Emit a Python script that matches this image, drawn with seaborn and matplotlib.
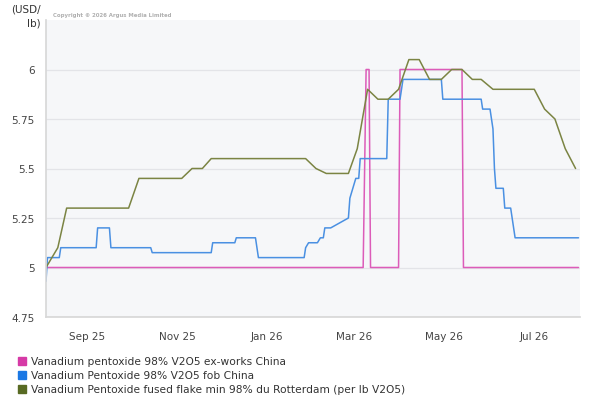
import matplotlib
matplotlib.use("Agg")
import matplotlib.pyplot as plt
import matplotlib.dates as mdates
from matplotlib.lines import Line2D
import seaborn as sns
import pandas as pd

# ---- data ----
exw_dates = ["2025-08-04", "2026-03-07", "2026-03-09", "2026-03-11", "2026-03-12",
             "2026-03-31", "2026-04-01", "2026-05-13", "2026-05-14", "2026-07-31"]
exw_vals = [5.0, 5.0, 6.0, 6.0, 5.0, 5.0, 6.0, 6.0, 5.0, 5.0]

fob_dates = ["2025-08-04", "2025-08-05", "2025-08-13", "2025-08-14", "2025-09-07", "2025-09-08",
             "2025-09-16", "2025-09-17", "2025-10-14", "2025-10-15", "2025-11-24", "2025-11-25",
             "2025-12-10", "2025-12-11", "2025-12-24", "2025-12-26", "2026-01-26", "2026-01-27",
             "2026-01-29", "2026-02-04", "2026-02-06", "2026-02-08", "2026-02-09", "2026-02-13",
             "2026-02-25", "2026-02-26", "2026-03-02", "2026-03-04", "2026-03-05", "2026-03-23",
             "2026-03-24", "2026-04-01", "2026-04-03", "2026-04-29", "2026-04-30", "2026-05-26",
             "2026-05-27", "2026-06-01", "2026-06-03", "2026-06-04", "2026-06-05", "2026-06-10",
             "2026-06-11", "2026-06-15", "2026-06-16", "2026-06-18", "2026-07-31"]
fob_vals = [4.93, 5.05, 5.05, 5.10, 5.10, 5.20,
            5.20, 5.10, 5.10, 5.075, 5.075, 5.125,
            5.125, 5.15, 5.15, 5.05, 5.05, 5.10,
            5.125, 5.125, 5.15, 5.15, 5.20, 5.20,
            5.25, 5.35, 5.45, 5.45, 5.55, 5.55,
            5.85, 5.85, 5.95, 5.95, 5.85, 5.85,
            5.80, 5.80, 5.70, 5.50, 5.40, 5.40,
            5.30, 5.30, 5.25, 5.15, 5.15]

rot_dates = ["2025-08-04", "2025-08-12", "2025-08-18", "2025-09-29", "2025-10-06", "2025-11-04",
             "2025-11-11", "2025-11-18", "2025-11-24", "2026-01-27", "2026-02-03", "2026-02-10",
             "2026-02-25", "2026-03-03", "2026-03-10", "2026-03-17", "2026-03-24", "2026-03-31",
             "2026-04-07", "2026-04-14", "2026-04-21", "2026-04-29", "2026-05-06", "2026-05-13",
             "2026-05-20", "2026-05-26", "2026-06-03", "2026-07-01", "2026-07-08", "2026-07-15",
             "2026-07-22", "2026-07-29"]
rot_vals = [5.00, 5.10, 5.30, 5.30, 5.45, 5.45,
            5.50, 5.50, 5.55, 5.55, 5.50, 5.475,
            5.475, 5.60, 5.90, 5.85, 5.85, 5.90,
            6.05, 6.05, 5.95, 5.95, 6.00, 6.00,
            5.95, 5.95, 5.90, 5.90, 5.80, 5.75,
            5.60, 5.50]

series_names = ["Vanadium pentoxide 98% V2O5 ex-works China",
                "Vanadium Pentoxide 98% V2O5 fob China",
                "Vanadium Pentoxide fused flake min 98% du Rotterdam (per lb V2O5)"]
y_ticks = [4.75, 5, 5.25, 5.5, 5.75, 6]
y_tick_labels = ["4.75", "5", "5.25", "5.5", "5.75", "6"]

# ---- styling ----
line_colors = ["#dc5cb9", "#4a90e2", "#7b8443"]
legend_colors = ["#d63aa6", "#1b78e4", "#586a23"]

frames = []
for name, d, v in zip(series_names, [exw_dates, fob_dates, rot_dates], [exw_vals, fob_vals, rot_vals]):
    frames.append(pd.DataFrame({"date": pd.to_datetime(d), "value": v, "series": name}))
df = pd.concat(frames, ignore_index=True)

sns.set_theme(style="white")
plt.rcParams["font.family"] = ["DejaVu Sans"]

fig = plt.figure(figsize=(6.0, 4.06), dpi=100)
ax = fig.add_axes([46 / 600, 1 - 318 / 406, (580 - 46) / 600, (318 - 21) / 406])
ax.set_facecolor("#f6f7f9")

sns.lineplot(data=df, x="date", y="value", hue="series", hue_order=series_names,
             palette=dict(zip(series_names, line_colors)), linewidth=1.1,
             estimator=None, sort=False, legend=False, ax=ax)

ax.set_xlim(pd.Timestamp("2025-08-04"), pd.Timestamp("2026-08-01"))
ax.set_ylim(4.75, 6.25)
ax.set_yticks(y_ticks)
ax.set_yticklabels(y_tick_labels)
ax.xaxis.set_major_locator(mdates.MonthLocator(bymonth=[1, 3, 5, 7, 9, 11]))
ax.xaxis.set_major_formatter(mdates.DateFormatter("%b %y"))
ax.tick_params(axis="both", length=0, labelsize=7.5, colors="#444444")
ax.tick_params(axis="x", pad=10)
ax.tick_params(axis="y", pad=8)
ax.set_xlabel("")
ax.set_ylabel("")
ax.grid(axis="y", color="#e3e4e8", linewidth=0.9)
ax.grid(axis="x", visible=False)
for s in ["top", "right"]:
    ax.spines[s].set_visible(False)
ax.spines["left"].set_color("#d8d8d8")
ax.spines["bottom"].set_color("#d8d8d8")

fig.text(41 / 600, 1 - 5 / 406, "(USD/\nlb)", ha="right", va="top", fontsize=7.5,
         color="#333333", linespacing=1.4)
fig.text(53 / 600, 1 - 15 / 406, "Copyright \u00a9 2026 Argus Media Limited", ha="left",
         va="center", fontsize=3.9, color="#b0b0b0", fontweight="bold")

handles = [Line2D([0], [0], marker="s", linestyle="none", markersize=5.5,
                  markerfacecolor=c, markeredgecolor=c) for c in legend_colors]
fig.legend(handles, series_names, loc="upper left", bbox_to_anchor=(14 / 600, 1 - 353 / 406),
           frameon=False, fontsize=7.7, handlelength=0.7, handletextpad=0.45,
           labelspacing=0.38, borderaxespad=0, labelcolor="#333333")

fig.savefig("out.png", dpi=100, facecolor="white")
